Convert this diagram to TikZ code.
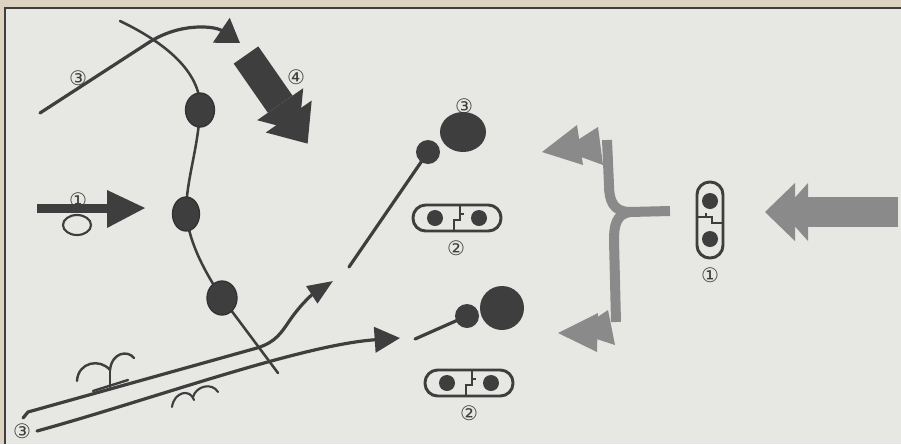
\documentclass[tikz,border=0pt]{standalone}
\usepackage{fontspec}
\newfontfamily\circfont{DejaVu Sans}
\usetikzlibrary{arrows.meta}

\definecolor{inkdark}{RGB}{62,62,62}
\definecolor{inkgray}{RGB}{138,138,138}
\definecolor{paper}{RGB}{231,231,227}
\definecolor{scanedge}{RGB}{222,211,192}

\tikzset{every picture/.style={line width=0.75pt},
  strand/.style={draw=inkdark, line width=2.4pt, line cap=round},
  fibre/.style={draw=inkdark, line width=1.9pt, line cap=round},
  grayband/.style={draw=inkgray, line width=7.5pt},
  bead/.style={fill=inkdark, draw=inkdark!80!black, line width=1pt},
  numlabel/.style={inner sep=0pt, text=inkdark, font=\circfont\fontsize{15}{17}\selectfont},
  pics/capsule/.style={code={
    \draw[inkdark, line width=2.2pt, rounded corners=9.5pt] (-#1,-13) rectangle (#1,13);
    \fill[inkdark] ({-#1/2},0) circle (8);
    \fill[inkdark] ({#1/2},0) circle (8);
    \draw[inkdark, line width=1.6pt] (-3,-13) -- (-3,-2) -- (3,-2) -- (3,13);
    \draw[inkdark, line width=1.6pt] (3,4) -- (7,4);
  }}
}

\begin{document}
\begin{tikzpicture}[x=0.75pt,y=0.75pt,yscale=-1,xscale=1]
    \useasboundingbox (0,0) rectangle (901,444);

    %Shape: Page background
    \fill[scanedge] (0,0) rectangle (901,444);
    \fill[paper] (5,8) rectangle (901,444);
    \draw[inkdark, line width=1.2pt] (5,444) -- (5,8) -- (901,8);

    %Curve Lines [chromosome]
    \draw[fibre] (120,21) .. controls (170,45) and (202,75) .. (200,110) .. controls (198,150) and (186,180) .. (186,214) .. controls (190,245) and (205,272) .. (222,298) -- (278,373);
    %Shape: Ellipse [beads]
    \draw[bead] (200,110) ellipse (14.5 and 17);
    \draw[bead] (186,214) ellipse (13.5 and 17);
    \draw[bead] (222,298) ellipse (15 and 17);

    %Curve Lines [upper strand]
    \draw[strand, -{Triangle[width=22pt,length=17pt]}] (40,113) -- (148,43) .. controls (180,22) and (215,26) .. (240,43);

    %Shape: Block arrow [4]
    \fill[inkdark] (258.3,46.4) -- (292.5,95.6) -- (267.9,112.8) -- (233.7,63.6) -- cycle;
    \fill[inkdark] (303.2,88.2) -- (299,131.3) -- (257.2,120.2) -- cycle;
    \fill[inkdark] (311.7,100.5) -- (307.6,143.6) -- (265.8,132.5) -- cycle;

    %Shape: Block arrow [1]
    \fill[inkdark] (37,204) rectangle (108,213);
    \fill[inkdark] (107,190) -- (145,208) -- (107,228) -- cycle;
    \draw[inkdark, line width=1.6pt] (77,225) ellipse (14 and 10);

    %Curve Lines [lower strands]
    \draw[strand, -{Triangle[width=15pt,length=19pt]}] (23,418) -- (28,412) -- (257,348) .. controls (276,342) and (281,333) .. (290,320) .. controls (298,308) and (310,296) .. (333,281);
    \draw[strand, -{Triangle[width=19pt,length=19pt]}] (37,431) .. controls (150,400) and (300,345) .. (400,338);

    %Curve Lines [small marks on strands]
    \draw[inkdark, line width=1.8pt, line cap=round] (77,381) .. controls (78,362) and (100,358) .. (110,370) .. controls (112,352) and (128,350) .. (134,358);
    \draw[inkdark, line width=1.8pt, line cap=round] (110,369) -- (110,387);
    \draw[inkdark, line width=1.8pt, line cap=round] (93,391) -- (128,380);
    \draw[inkdark, line width=1.6pt, line cap=round] (172,407) .. controls (174,392) and (190,388) .. (194,400);
    \draw[inkdark, line width=1.6pt, line cap=round] (193,397) .. controls (196,386) and (212,382) .. (218,392);

    %Straight Lines [upper pin]
    \draw[strand] (349,267) -- (428,152);
    \fill[inkdark] (428,152) circle (12);
    \fill[inkdark] (463,132) ellipse (23 and 20);

    %Straight Lines [lower pin]
    \draw[strand] (415,339) -- (467,316);
    \fill[inkdark] (467,316) circle (12);
    \fill[inkdark] (502,308) circle (22);

    %Shape: Capsules
    \pic at (457,218) {capsule=44};
    \pic at (469,383) {capsule=44};
    \pic[rotate=90] at (710,220) {capsule=38};

    %Shape: Gray arrow [right]
    \fill[inkgray] (808,197) rectangle (898,227);
    \fill[inkgray] (765,212) -- (795,183) -- (795,241) -- cycle;
    \fill[inkgray] (782,212) -- (808,183) -- (808,241) -- cycle;

    %Curve Lines [gray fork]
    \draw[grayband] (670,211) -- (630,212) .. controls (613,212) and (609,200) .. (609,185) -- (607,140);
    \draw[grayband] (630,212) .. controls (616,214) and (614,226) .. (614,240) -- (616,322);
    \fill[inkgray] (542,152) -- (577,125) -- (583,165) -- cycle;
    \fill[inkgray] (562,150) -- (598,127) -- (603,165) -- cycle;
    \fill[inkgray] (558,333) -- (598,313) -- (597,352) -- cycle;
    \fill[inkgray] (575,332) -- (608,310) -- (615,345) -- cycle;

    % Text Node
    \node[numlabel] (lblStrandTop) at (78,78) {③};
    % Text Node
    \node[numlabel] (lblBlock) at (296,77) {④};
    % Text Node
    \node[numlabel] (lblEntry) at (78,200) {①};
    % Text Node
    \node[numlabel] (lblStrandLow) at (22,431) {③};
    % Text Node
    \node[numlabel] (lblBall) at (464,106) {③};
    % Text Node
    \node[numlabel] (lblCapUpper) at (456,248) {②};
    % Text Node
    \node[numlabel] (lblCapLower) at (469,413) {②};
    % Text Node
    \node[numlabel] (lblCapRight) at (710,275) {①};

\end{tikzpicture}
\end{document}
